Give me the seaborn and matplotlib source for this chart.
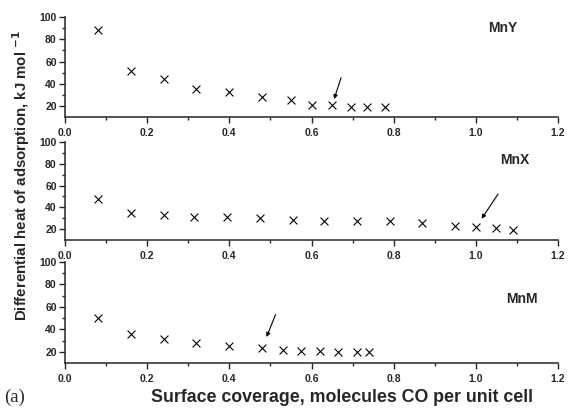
import numpy as np
import pandas as pd
import seaborn as sns
import matplotlib.pyplot as plt

# surface coverage (molecules CO per unit cell) and differential heat (kJ/mol)
mny_x = [0.08, 0.16, 0.24, 0.32, 0.40, 0.48, 0.55, 0.60, 0.65, 0.695, 0.735, 0.78]
mny_y = [88, 51.5, 44.5, 35.5, 32.5, 28.5, 25.5, 20.5, 20.5, 19.5, 19.5, 19]

mnx_x = [0.08, 0.16, 0.24, 0.315, 0.395, 0.475, 0.555, 0.63, 0.71, 0.79, 0.87, 0.95, 1.0, 1.05, 1.09]
mnx_y = [48, 35, 32.5, 31.5, 31, 30.5, 28.7, 27.5, 27.5, 27.5, 25.5, 23, 21.5, 20.5, 19.5]

mnm_x = [0.08, 0.16, 0.24, 0.32, 0.40, 0.48, 0.53, 0.575, 0.62, 0.665, 0.71, 0.74]
mnm_y = [50, 36, 31.5, 27.5, 25.5, 23.5, 21.5, 21, 20.5, 20, 19.5, 19.5]

samples = ['MnY', 'MnX', 'MnM']
arrow_idx = [8, 12, 5]  # point marked by the arrow in each panel

x_ticks = [0.0, 0.2, 0.4, 0.6, 0.8, 1.0, 1.2]
y_ticks = [20, 40, 60, 80, 100]

sns.set_style('ticks')
plt.rcParams['font.family'] = ['Liberation Sans', 'DejaVu Sans']
plt.rcParams['font.weight'] = 'bold'

fig = plt.figure(figsize=(5.7, 4.08), dpi=100)
positions = [[0.114, 0.713, 0.865, 0.245],
             [0.114, 0.412, 0.865, 0.240],
             [0.114, 0.110, 0.865, 0.248]]
label_pos = [(0.888, 0.89), (0.913, 0.816), (0.927, 0.634)]
arrow_off = [(6.5, 20), (16, 24), (9.6, 24)]
arrow_shrink = [4.8, 7.5, 8.5]

data = [(mny_x, mny_y), (mnx_x, mnx_y), (mnm_x, mnm_y)]

for i, (xs, ys) in enumerate(data):
    ax = fig.add_axes(positions[i])
    df = pd.DataFrame({'coverage': xs, 'heat': ys})
    sns.scatterplot(data=df, x='coverage', y='heat', marker='x', color='black',
                    s=32, linewidth=0.8, ax=ax)
    ax.set_xlim(0, 1.2)
    ax.set_ylim(10, 100)
    ax.set_xticks(x_ticks)
    ax.set_xticks(np.arange(0.1, 1.2, 0.2), minor=True)
    ax.set_yticks(y_ticks)
    ax.set_yticks([30, 50, 70, 90], minor=True)
    ax.set_xticklabels([f'{t:.1f}' for t in x_ticks], fontsize=7.5, fontweight='bold')
    ax.set_yticklabels([str(t) for t in y_ticks], fontsize=7.5, fontweight='bold')
    ax.tick_params(which='major', length=4, width=1, pad=4)
    ax.tick_params(which='minor', length=2.5, width=1)
    ax.tick_params(axis='y', pad=2)
    for side in ['top', 'right']:
        ax.spines[side].set_visible(False)
    for side in ['left', 'bottom']:
        ax.spines[side].set_linewidth(1.1)
    ax.set_xlabel('')
    ax.set_ylabel('')
    ax.text(label_pos[i][0], label_pos[i][1], samples[i], transform=ax.transAxes,
            ha='center', va='center', fontsize=10, fontweight='bold')
    k = arrow_idx[i]
    ax.annotate('', xy=(xs[k], ys[k]), xytext=arrow_off[i], textcoords='offset points',
                arrowprops=dict(arrowstyle='-|>', color='black', lw=0.8,
                                mutation_scale=6, shrinkA=0, shrinkB=arrow_shrink[i]))

fig.text(0.037, 0.57, 'Differential heat of adsorption, kJ mol $^{\\mathbf{-1}}$',
         rotation=90, ha='center', va='center', fontsize=10.8, fontweight='bold')
fig.text(0.6, 0.025, 'Surface coverage, molecules CO per unit cell',
         ha='center', va='center', fontsize=12.8, fontweight='bold')
fig.text(0.008, 0.025, '(a)', ha='left', va='center', fontsize=13.5,
         family=['Liberation Serif', 'DejaVu Serif'], fontweight='normal')

fig.savefig('out.png', dpi=100)
